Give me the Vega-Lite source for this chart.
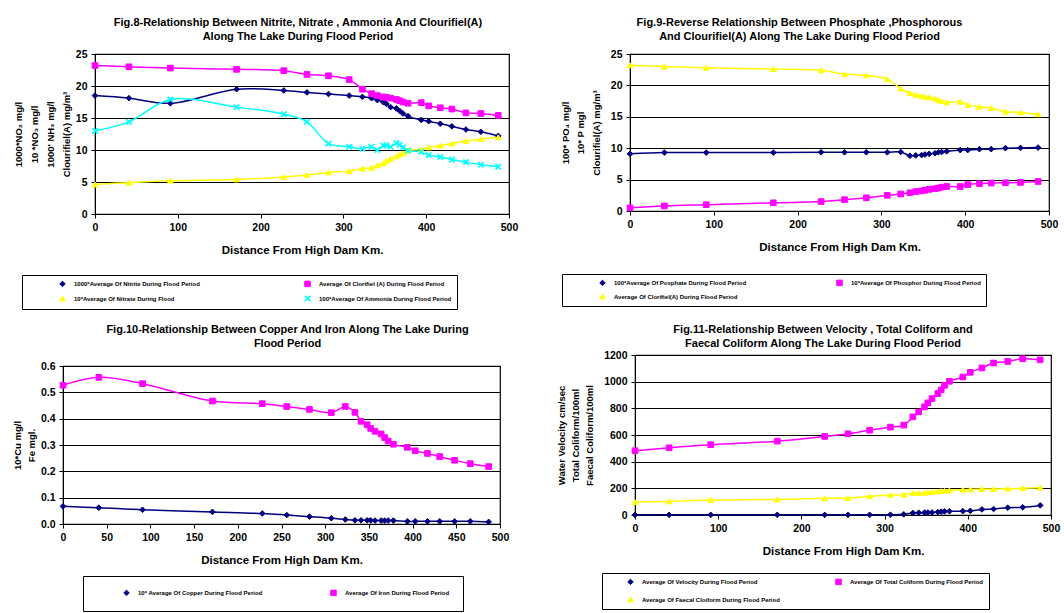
{
"$schema": "https://vega.github.io/schema/vega-lite/v6.json",
"padding": {"top": 15, "left": 11, "right": 5, "bottom": 0},
"background": "white",
"datasets": {"lake": [
{"d":0,"ni":18.5,"chl":23.2,"no3":4.6,"nh3":13.0,"po4":9.1,"p":0.5,"cu":0.067,"fe":0.527,"vel":1,"tc":482,"fc":97},
{"d":41,"ni":18.1,"chl":23.0,"no3":4.9,"nh3":14.4,"po4":9.3,"p":0.8,"cu":0.062,"fe":0.557,"vel":1,"tc":504,"fc":102},
{"d":91,"ni":17.3,"chl":22.8,"no3":5.2,"nh3":17.9,"po4":9.3,"p":1.0,"cu":0.054,"fe":0.533,"vel":1,"tc":527,"fc":112},
{"d":171,"ni":19.5,"chl":22.6,"no3":5.4,"nh3":16.7,"po4":9.3,"p":1.3,"cu":0.046,"fe":0.467,"vel":1,"tc":554,"fc":117},
{"d":228,"ni":19.3,"chl":22.4,"no3":5.8,"nh3":15.6,"po4":9.35,"p":1.5,"cu":0.04,"fe":0.457,"vel":1,"tc":589,"fc":125},
{"d":256,"ni":19.0,"chl":21.8,"no3":6.1,"nh3":14.4,"po4":9.35,"p":1.8,"cu":0.034,"fe":0.446,"vel":1,"tc":609,"fc":127},
{"d":282,"ni":18.75,"chl":21.6,"no3":6.5,"nh3":11.0,"po4":9.35,"p":2.1,"cu":0.028,"fe":0.435,"vel":1,"tc":636,"fc":140},
{"d":307,"ni":18.5,"chl":21.0,"no3":6.7,"nh3":10.5,"po4":9.35,"p":2.5,"cu":0.022,"fe":0.423,"vel":2,"tc":659,"fc":150},
{"d":323,"ni":18.3,"chl":19.5,"no3":7.1,"nh3":10.2,"po4":9.4,"p":2.7,"cu":0.017,"fe":0.446,"vel":5,"tc":674,"fc":152},
{"d":334,"ni":18.1,"chl":18.8,"no3":7.2,"nh3":10.5,"po4":8.8,"p":2.9,"cu":0.014,"fe":0.424,"vel":15,"tc":736,"fc":165},
{"d":341,"ni":17.8,"chl":18.5,"no3":7.6,"nh3":10.0,"po4":8.85,"p":3.1,"cu":0.014,"fe":0.39,"vel":17,"tc":773,"fc":166},
{"d":348,"ni":17.5,"chl":18.3,"no3":7.9,"nh3":10.7,"po4":8.9,"p":3.2,"cu":0.014,"fe":0.377,"vel":18,"tc":811,"fc":167},
{"d":352,"ni":17.2,"chl":18.2,"no3":8.3,"nh3":10.7,"po4":9.0,"p":3.3,"cu":0.014,"fe":0.363,"vel":18,"tc":841,"fc":170},
{"d":357,"ni":16.7,"chl":18.1,"no3":8.6,"nh3":10.5,"po4":9.1,"p":3.45,"cu":0.013,"fe":0.352,"vel":19,"tc":873,"fc":175},
{"d":364,"ni":16.5,"chl":17.9,"no3":9.0,"nh3":11.1,"po4":9.2,"p":3.55,"cu":0.013,"fe":0.342,"vel":22,"tc":911,"fc":177},
{"d":368,"ni":16.1,"chl":17.7,"no3":9.3,"nh3":10.8,"po4":9.35,"p":3.65,"cu":0.013,"fe":0.328,"vel":25,"tc":938,"fc":180},
{"d":372,"ni":15.7,"chl":17.5,"no3":9.5,"nh3":10.4,"po4":9.4,"p":3.8,"cu":0.013,"fe":0.315,"vel":27,"tc":973,"fc":182},
{"d":378,"ni":15.3,"chl":17.3,"no3":9.9,"nh3":9.9,"po4":9.5,"p":3.9,"cu":0.013,"fe":0.303,"vel":28,"tc":1003,"fc":185},
{"d":394,"ni":14.7,"chl":17.4,"no3":10.1,"nh3":9.7,"po4":9.7,"p":3.9,"cu":0.01,"fe":0.291,"vel":29,"tc":1035,"fc":190},
{"d":403,"ni":14.5,"chl":16.9,"no3":10.4,"nh3":9.2,"po4":9.7,"p":4.2,"cu":0.01,"fe":0.278,"vel":31,"tc":1070,"fc":192},
{"d":417,"ni":14.1,"chl":16.6,"no3":10.7,"nh3":8.9,"po4":9.85,"p":4.35,"cu":0.01,"fe":0.268,"vel":42,"tc":1103,"fc":195},
{"d":431,"ni":13.7,"chl":16.4,"no3":11.0,"nh3":8.5,"po4":9.85,"p":4.45,"cu":0.01,"fe":0.256,"vel":45,"tc":1140,"fc":195},
{"d":448,"ni":13.2,"chl":15.8,"no3":11.4,"nh3":8.1,"po4":10.0,"p":4.5,"cu":0.01,"fe":0.242,"vel":55,"tc":1152,"fc":197},
{"d":466,"ni":12.85,"chl":15.7,"no3":11.7,"nh3":7.7,"po4":10.05,"p":4.55,"cu":0.01,"fe":0.229,"vel":58,"tc":1172,"fc":200},
{"d":487,"ni":12.2,"chl":15.4,"no3":12.0,"nh3":7.4,"po4":10.1,"p":4.7,"cu":0.008,"fe":0.218,"vel":72,"tc":1164,"fc":205}
]},
"spacing": 10,
"resolve": {"scale": {"color": "independent", "shape": "independent", "stroke": "independent", "x": "independent", "y": "independent"}, "legend": {"color": "independent", "shape": "independent", "stroke": "independent"}},
"vconcat": [
{"spacing": 0,
 "resolve": {"scale": {"color": "independent", "shape": "independent", "stroke": "independent", "x": "independent", "y": "independent"}, "legend": {"color": "independent", "shape": "independent", "stroke": "independent"}},
 "hconcat": [
 {"width": 1, "height": 1, "data": {"values": []}, "mark": "point", "view": {"stroke": null}},
 {"width": 414, "height": 160,
  "title": {"text": ["Fig.8-Relationship Between Nitrite, Nitrate , Ammonia And Clourifiel(A)", "Along The Lake During Flood Period"], "dx": -4},
  "data": {"name": "lake"},
  "transform": [{"fold": ["ni", "chl", "no3", "nh3"], "as": ["s", "v"]}],
  "encoding": {
   "x": {"field": "d", "type": "quantitative", "scale": {"domain": [0, 500], "nice": false}, "axis": {"values": [0, 100, 200, 300, 400, 500], "title": "Distance From High Dam Km."}},
   "y": {"field": "v", "type": "quantitative", "scale": {"domain": [0, 25], "nice": false}, "axis": {"values": [0, 5, 10, 15, 20, 25], "title": ["1000*NO₂ mg/l", "10 *NO₃ mg/l", "1000' NH₃ mg/l", "Clourifiel(A) mg/m³"], "titleLineHeight": 16}},
   "color": {"field": "s", "type": "nominal", "scale": {"domain": ["ni", "no3", "chl", "nh3"], "range": ["#000080", "#FFFF00", "#FF00FF", "#00FFFF"]},
      "legend": {"title": null, "orient": "none", "legendX": -73, "legendY": 221, "columns": 2, "columnPadding": 72, "rowPadding": 4, "symbolOffset": 32, "labelExpr": "datum.label=='ni'?'1000*Average Of Nitrite During Flood Period':datum.label=='chl'?'Average Of Clorifiel (A) During Flood Period':datum.label=='no3'?'10*Average Of Nitrate During Flood':'100*Average Of Ammonia During Flood Period'"}}
  },
  "layer": [
   {"mark": {"type": "line", "interpolate": "catmull-rom", "strokeWidth": 1.5}},
   {"mark": {"type": "point", "filled": true, "opacity": 1, "size": 32, "strokeWidth": 1},
    "encoding": {
     "shape": {"field": "s", "type": "nominal", "scale": {"domain": ["ni", "no3", "chl", "nh3"], "range": ["diamond", "triangle-up", "square", "M-1,-0.75L-0.75,-1L0,-0.25L0.75,-1L1,-0.75L0.25,0L1,0.75L0.75,1L0,0.25L-0.75,1L-1,0.75L-0.25,0Z"]},
      "legend": {"title": null, "orient": "none", "legendX": -73, "legendY": 221, "columns": 2, "columnPadding": 72, "rowPadding": 4, "symbolOffset": 32, "labelExpr": "datum.label=='ni'?'1000*Average Of Nitrite During Flood Period':datum.label=='chl'?'Average Of Clorifiel (A) During Flood Period':datum.label=='no3'?'10*Average Of Nitrate During Flood':'100*Average Of Ammonia During Flood Period'"}},
     "stroke": {"field": "s", "type": "nominal", "scale": {"domain": ["ni", "no3", "chl", "nh3"], "range": ["#000080", "#FFFF00", "#FF00FF", "#00FFFF"]},
      "legend": {"title": null, "orient": "none", "legendX": -73, "legendY": 221, "columns": 2, "columnPadding": 72, "rowPadding": 4, "symbolOffset": 32, "labelExpr": "datum.label=='ni'?'1000*Average Of Nitrite During Flood Period':datum.label=='chl'?'Average Of Clorifiel (A) During Flood Period':datum.label=='no3'?'10*Average Of Nitrate During Flood':'100*Average Of Ammonia During Flood Period'"}}
    }}
  ]
 },
 {"width": 40, "height": 1, "data": {"values": []}, "mark": "point", "view": {"stroke": null}},
 {"width": 419, "height": 157,
  "title": {"text": ["Fig.9-Reverse Relationship Between Phosphate ,Phosphorous", "And Clourifiel(A) Along The Lake During Flood Period"], "dx": -40},
  "data": {"name": "lake"},
  "transform": [{"fold": ["po4", "p", "chl"], "as": ["s", "v"]}],
  "encoding": {
   "x": {"field": "d", "type": "quantitative", "scale": {"domain": [0, 500], "nice": false}, "axis": {"values": [0, 100, 200, 300, 400, 500], "title": "Distance From High Dam Km."}},
   "y": {"field": "v", "type": "quantitative", "scale": {"domain": [0, 25], "nice": false}, "axis": {"values": [0, 5, 10, 15, 20, 25], "titlePadding": 9, "title": ["100* PO₄ mg/l", "10* P mgl", "Clourifiel(A) mg/m³"], "titleLineHeight": 15.5}},
   "color": {"field": "s", "type": "nominal", "scale": {"domain": ["po4", "chl", "p"], "range": ["#000080", "#FFFF00", "#FF00FF"]},
      "legend": {"title": null, "orient": "none", "legendX": -68, "legendY": 220, "columns": 2, "columnPadding": 57, "rowPadding": 4, "symbolOffset": 32, "labelExpr": "datum.label=='po4'?'100*Average Of Posphate During Flood Period':datum.label=='p'?'10*Average Of Phosphor During Flood Period':'Average Of Clorifiel(A) During Flood Period'"}}
  },
  "layer": [
   {"mark": {"type": "line", "interpolate": "catmull-rom", "strokeWidth": 1.5}},
   {"mark": {"type": "point", "filled": true, "opacity": 1, "size": 32, "strokeWidth": 1},
    "encoding": {
     "shape": {"field": "s", "type": "nominal", "scale": {"domain": ["po4", "chl", "p"], "range": ["diamond", "triangle-up", "square"]},
      "legend": {"title": null, "orient": "none", "legendX": -68, "legendY": 220, "columns": 2, "columnPadding": 57, "rowPadding": 4, "symbolOffset": 32, "labelExpr": "datum.label=='po4'?'100*Average Of Posphate During Flood Period':datum.label=='p'?'10*Average Of Phosphor During Flood Period':'Average Of Clorifiel(A) During Flood Period'"}},
     "stroke": {"field": "s", "type": "nominal", "scale": {"domain": ["po4", "chl", "p"], "range": ["#000080", "#FFFF00", "#FF00FF"]},
      "legend": {"title": null, "orient": "none", "legendX": -68, "legendY": 220, "columns": 2, "columnPadding": 57, "rowPadding": 4, "symbolOffset": 32, "labelExpr": "datum.label=='po4'?'100*Average Of Posphate During Flood Period':datum.label=='p'?'10*Average Of Phosphor During Flood Period':'Average Of Clorifiel(A) During Flood Period'"}}
    }}
  ]
 }
 ]},
{"columns": 4,
 "align": "none",
 "spacing": {"row": 0, "column": 0},
 "resolve": {"scale": {"color": "independent", "shape": "independent", "stroke": "independent", "x": "independent", "y": "independent"}, "legend": {"color": "independent", "shape": "independent", "stroke": "independent"}},
 "concat": [
 {"width": 1, "height": 1, "data": {"values": []}, "mark": "point", "view": {"stroke": null}},
 {"width": 1, "height": 1, "data": {"values": []}, "mark": "point", "view": {"stroke": null}},
 {"width": 1, "height": 1, "data": {"values": []}, "mark": "point", "view": {"stroke": null}},
 {"width": 1, "height": 1, "data": {"values": []}, "mark": "point", "view": {"stroke": null}},
 {"width": 1, "height": 1, "data": {"values": []}, "mark": "point", "view": {"stroke": null}},
 {"width": 437, "height": 158,
  "title": {"text": ["Fig.10-Relationship Between Copper And Iron Along The Lake During", "Flood Period"], "dx": 6, "offset": 12},
  "data": {"name": "lake"},
  "transform": [{"fold": ["cu", "fe"], "as": ["s", "v"]}],
  "encoding": {
   "x": {"field": "d", "type": "quantitative", "scale": {"domain": [0, 500], "nice": false}, "axis": {"values": [0, 50, 100, 150, 200, 250, 300, 350, 400, 450, 500], "title": "Distance From High Dam Km."}},
   "y": {"field": "v", "type": "quantitative", "scale": {"domain": [0, 0.6], "nice": false}, "axis": {"values": [0, 0.1, 0.2, 0.3, 0.4, 0.5, 0.6], "title": ["10*Cu  mg/l", "Fe  mgl."], "titleLineHeight": 13.5}},
   "color": {"field": "s", "type": "nominal", "scale": {"domain": ["cu", "fe"], "range": ["#000080", "#FF00FF"]},
      "legend": {"title": null, "orient": "none", "legendX": 20, "legendY": 210, "columns": 2, "columnPadding": 40, "rowPadding": 4, "symbolOffset": 27, "padding": 13, "labelExpr": "datum.label=='cu'?'10* Average Of Copper During Flood Period':pad('Average Of Iron During Flood Period',51,'\u00a0','left')"}}
  },
  "layer": [
   {"mark": {"type": "line", "interpolate": "catmull-rom", "strokeWidth": 1.5}},
   {"mark": {"type": "point", "filled": true, "opacity": 1, "size": 32, "strokeWidth": 1},
    "encoding": {
     "shape": {"field": "s", "type": "nominal", "scale": {"domain": ["cu", "fe"], "range": ["diamond", "square"]},
      "legend": {"title": null, "orient": "none", "legendX": 20, "legendY": 210, "columns": 2, "columnPadding": 40, "rowPadding": 4, "symbolOffset": 27, "padding": 13, "labelExpr": "datum.label=='cu'?'10* Average Of Copper During Flood Period':pad('Average Of Iron During Flood Period',51,'\u00a0','left')"}},
     "stroke": {"field": "s", "type": "nominal", "scale": {"domain": ["cu", "fe"], "range": ["#000080", "#FF00FF"]},
      "legend": {"title": null, "orient": "none", "legendX": 20, "legendY": 210, "columns": 2, "columnPadding": 40, "rowPadding": 4, "symbolOffset": 27, "padding": 13, "labelExpr": "datum.label=='cu'?'10* Average Of Copper During Flood Period':pad('Average Of Iron During Flood Period',51,'\u00a0','left')"}}
    }}
  ]
 },
 {"width": 46, "height": 1, "data": {"values": []}, "mark": "point", "view": {"stroke": null}},
 {"width": 416, "height": 160,
  "title": {"text": ["Fig.11-Relationship Between Velocity , Total Coliform and", "Faecal Coliform Along The Lake During Flood  Period"], "dx": -20, "offset": 1},
  "data": {"name": "lake"},
  "transform": [{"fold": ["vel", "tc", "fc"], "as": ["s", "v"]}],
  "encoding": {
   "x": {"field": "d", "type": "quantitative", "scale": {"domain": [0, 500], "nice": false}, "axis": {"values": [0, 100, 200, 300, 400, 500], "title": "Distance From High Dam Km."}},
   "y": {"field": "v", "type": "quantitative", "scale": {"domain": [0, 1200], "nice": false}, "axis": {"values": [0, 200, 400, 600, 800, 1000, 1200], "format": "d", "titlePadding": 9, "title": ["Water Velocity cm/sec", "Total Coliform/100ml", "Faecal Coliform/100ml"], "titleLineHeight": 14}},
   "color": {"field": "s", "type": "nominal", "scale": {"domain": ["vel", "fc", "tc"], "range": ["#000080", "#FFFF00", "#FF00FF"]},
      "legend": {"title": null, "orient": "none", "legendX": -33, "legendY": 218, "columns": 2, "columnPadding": 35, "rowPadding": 8, "symbolOffset": 20, "labelExpr": "datum.label=='vel'?'Average Of Velocity During Flood Period':datum.label=='tc'?'Average Of Total Coliform During Flood Period':'Average Of Faecal Cloiform During Flood Period'"}}
  },
  "layer": [
   {"mark": {"type": "line", "interpolate": "catmull-rom", "strokeWidth": 1.5}},
   {"mark": {"type": "point", "filled": true, "opacity": 1, "size": 32, "strokeWidth": 1},
    "encoding": {
     "shape": {"field": "s", "type": "nominal", "scale": {"domain": ["vel", "fc", "tc"], "range": ["diamond", "triangle-up", "square"]},
      "legend": {"title": null, "orient": "none", "legendX": -33, "legendY": 218, "columns": 2, "columnPadding": 35, "rowPadding": 8, "symbolOffset": 20, "labelExpr": "datum.label=='vel'?'Average Of Velocity During Flood Period':datum.label=='tc'?'Average Of Total Coliform During Flood Period':'Average Of Faecal Cloiform During Flood Period'"}},
     "stroke": {"field": "s", "type": "nominal", "scale": {"domain": ["vel", "fc", "tc"], "range": ["#000080", "#FFFF00", "#FF00FF"]},
      "legend": {"title": null, "orient": "none", "legendX": -33, "legendY": 218, "columns": 2, "columnPadding": 35, "rowPadding": 8, "symbolOffset": 20, "labelExpr": "datum.label=='vel'?'Average Of Velocity During Flood Period':datum.label=='tc'?'Average Of Total Coliform During Flood Period':'Average Of Faecal Cloiform During Flood Period'"}}
    }}
  ]
 }
 ]}
],
"config": {
 "font": "Liberation Sans",
 "view": {"stroke": "#000000", "strokeWidth": 1.2},
 "title": {"fontSize": 11, "fontWeight": "bold", "color": "#000000", "lineHeight": 14.5, "offset": 7, "anchor": "middle", "frame": "group", "font": "Liberation Sans"},
 "axis": {"labelFont": "Liberation Sans", "labelFontSize": 10.5, "labelFontWeight": "bold", "labelColor": "#000000", "titleFont": "Liberation Sans", "titleFontSize": 9.5, "titleFontWeight": "bold", "titleColor": "#000000", "domainColor": "#000000", "tickColor": "#000000", "tickSize": 4, "labelPadding": 4, "labelFlush": false, "labelOverlap": false},
 "axisX": {"grid": false, "titlePadding": 12, "titleFontSize": 11.5},
 "axisY": {"grid": true, "gridColor": "#000000", "gridWidth": 1, "titlePadding": 4},
 "legend": {"strokeColor": "#000000", "fillColor": "#ffffff", "padding": 5, "labelFont": "Liberation Sans", "labelFontSize": 6, "labelFontWeight": "bold", "labelColor": "#000000", "labelLimit": 400, "symbolSize": 30, "symbolStrokeWidth": 1, "labelOffset": 8}
}
}
